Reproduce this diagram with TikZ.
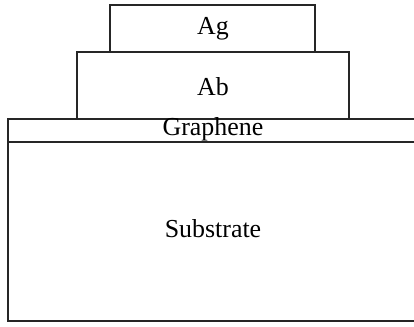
\documentclass[tikz,border=0pt]{standalone}
\usepackage{fontspec}
\setmainfont{Liberation Serif}
\begin{document}
\begin{tikzpicture}[x=1bp,y=-1bp,
  layer/.style={draw=black!85,line width=1.8bp},
  lbl/.style={anchor=base,inner sep=0pt,font=\fontsize{26}{30}\selectfont}]
\useasboundingbox (0,0) rectangle (414,327);
\clip (0,0) rectangle (414,327);
\draw[layer] (8,142) rectangle (430,321);
\draw[layer] (8,119) rectangle (430,142);
\draw[layer] (77,52) rectangle (349,119);
\draw[layer] (110,5) rectangle (315,52);
\node[lbl] (ag) at (213,34) {Ag};
\node[lbl] (ab) at (213,95) {Ab};
\node[lbl] (gr) at (213,135) {Graphene};
\node[lbl] (sub) at (213,237) {Substrate};
\end{tikzpicture}
\end{document}
